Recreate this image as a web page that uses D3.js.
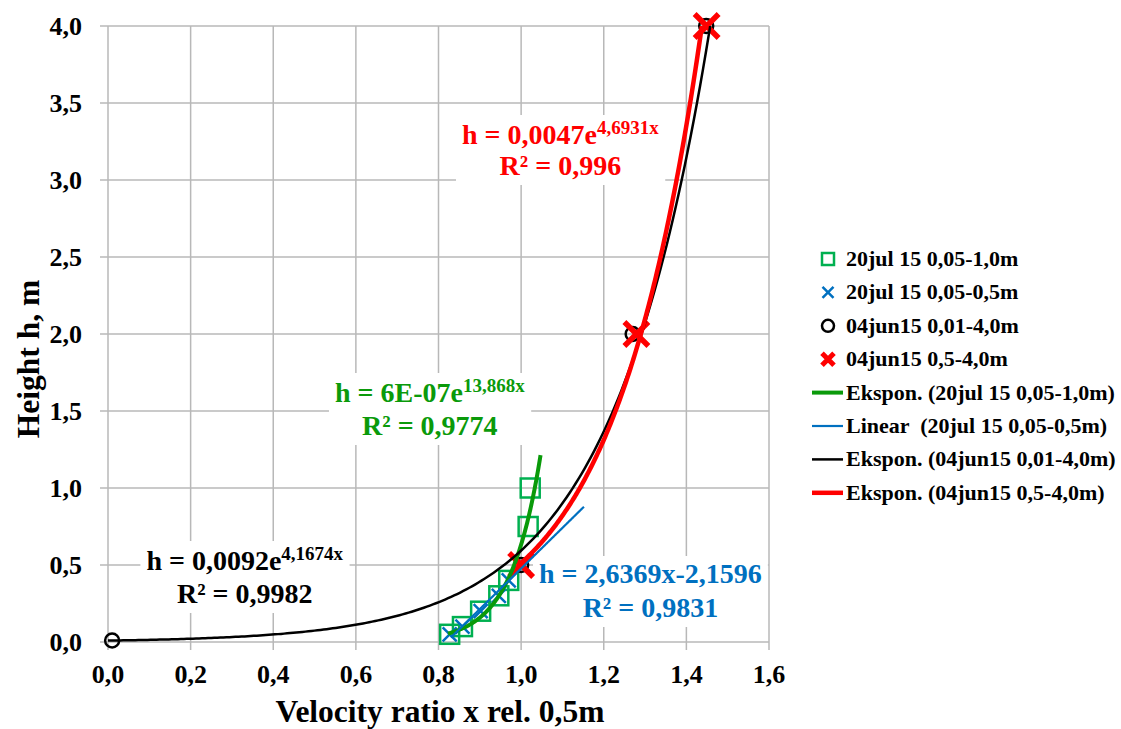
<!DOCTYPE html>
<html>
<head>
<meta charset="utf-8">
<script src="https://cdn.jsdelivr.net/npm/d3@7"></script>
<style>
  body { margin: 0; background: #fff; }
  text { font-family: "Liberation Serif", "Times New Roman", serif; font-weight: bold; }
</style>
</head>
<body>
<div id="chart"></div>
<script>
// Measured series (velocity ratio x, height h)
const squareX = [0.827, 0.858, 0.902, 0.946, 0.970, 1.017, 1.022];
const squareY = [0.05, 0.1, 0.2, 0.3, 0.4, 0.75, 1.0];
const crossX = [0.827, 0.858, 0.902, 0.946, 0.970, 1.005];
const crossY = [0.05, 0.1, 0.2, 0.3, 0.4, 0.5];
const circleX = [0.01, 1.0, 1.27, 1.448];
const circleY = [0.01, 0.5, 2.0, 4.0];
const redX = [1.0, 1.279, 1.449];
const redY = [0.5, 2.0, 4.0];

// Trendlines: [a, b] and x ranges
const expGreen = [6e-7, 13.868], greenRange = [0.823, 1.047];
const linBlue = [2.6369, -2.1596], blueRange = [0.83, 1.152];
const expBlack = [0.0092, 4.1674], blackRange = [0.0, 1.47];
const expRed = [0.0047, 4.6931], redRange = [0.99, 1.46];

const xTicks = [0, 0.2, 0.4, 0.6, 0.8, 1.0, 1.2, 1.4, 1.6];
const yTicks = [0, 0.5, 1.0, 1.5, 2.0, 2.5, 3.0, 3.5, 4.0];

const legendLabels = [
  "20jul 15 0,05-1,0m",
  "20jul 15 0,05-0,5m",
  "04jun15 0,01-4,0m",
  "04jun15 0,5-4,0m",
  "Ekspon. (20jul 15 0,05-1,0m)",
  "Linear  (20jul 15 0,05-0,5m)",
  "Ekspon. (04jun15 0,01-4,0m)",
  "Ekspon. (04jun15 0,5-4,0m)"
];

const W = 1121, H = 729;
const plot = { left: 108, right: 769, top: 26, bottom: 642 };
const GREEN = "#0a9a0a", SQ = "#00b050", BLUE = "#0070c0", RED = "#ff0000";

const x = d3.scaleLinear().domain([0, 1.6]).range([plot.left, plot.right]);
const y = d3.scaleLinear().domain([0, 4]).range([plot.bottom, plot.top]);
const fmt = d => d3.format(".1f")(d).replace(".", ",");

const svg = d3.select("#chart").append("svg")
  .attr("width", W).attr("height", H);

svg.append("defs").append("clipPath").attr("id", "clip")
  .append("rect")
  .attr("x", plot.left).attr("y", plot.top)
  .attr("width", plot.right - plot.left).attr("height", plot.bottom - plot.top);

// Grid
const grid = svg.append("g").attr("stroke", "#b8b8b8").attr("stroke-width", 1.5);
grid.selectAll(".vg").data(xTicks).join("line")
  .attr("x1", d => x(d)).attr("x2", d => x(d))
  .attr("y1", plot.top).attr("y2", plot.bottom + 8);
grid.selectAll(".hg").data(yTicks).join("line")
  .attr("x1", plot.left - 8).attr("x2", plot.right)
  .attr("y1", d => y(d)).attr("y2", d => y(d));

// Tick labels
svg.selectAll(".xt").data(xTicks).join("text")
  .attr("x", d => x(d)).attr("y", 683)
  .attr("text-anchor", "middle").attr("font-size", 26)
  .text(fmt);
svg.selectAll(".yt").data(yTicks).join("text")
  .attr("x", 82).attr("y", d => y(d) + 9)
  .attr("text-anchor", "end").attr("font-size", 26)
  .text(fmt);

// Axis titles
svg.append("text").attr("x", 440).attr("y", 722)
  .attr("text-anchor", "middle").attr("font-size", 31.5)
  .text("Velocity ratio x rel. 0,5m");
svg.append("text").attr("transform", "translate(39,359) rotate(-90)")
  .attr("text-anchor", "middle").attr("font-size", 31.5)
  .text("Height h, m");

// Annotation boxes (drawn before curves so lines pass over)
const labels = [
  { cx: 1.095, y1: 144, y2: 175, color: RED, main: "h = 0,0047e", sup: "4,6931x", r2: "R² = 0,996" },
  { cx: 0.779, y1: 402, y2: 435, color: GREEN, main: "h = 6E-07e", sup: "13,868x", r2: "R² = 0,9774" },
  { cx: 0.331, y1: 570, y2: 603, color: "#000", main: "h = 0,0092e", sup: "4,1674x", r2: "R² = 0,9982" },
  { cx: 1.313, y1: 583, y2: 617, color: BLUE, main: "h = 2,6369x-2,1596", sup: "", r2: "R² = 0,9831" }
];
const ann = svg.append("g");
labels.forEach(l => {
  const g = ann.append("g");
  const bg = g.append("rect").attr("fill", "#fff");
  const t1 = g.append("text").attr("x", x(l.cx)).attr("y", l.y1)
    .attr("text-anchor", "middle").attr("font-size", 28).attr("fill", l.color);
  t1.append("tspan").text(l.main);
  if (l.sup) t1.append("tspan").attr("font-size", 19).attr("dy", -10).text(l.sup);
  g.append("text").attr("x", x(l.cx)).attr("y", l.y2)
    .attr("text-anchor", "middle").attr("font-size", 28).attr("fill", l.color)
    .text(l.r2);
  const b = g.node().getBBox();
  bg.attr("x", b.x - 6).attr("y", b.y - 2).attr("width", b.width + 12).attr("height", b.height + 6);
});

// Markers (under the trendlines)
const marks = svg.append("g");
const xPath = s => `M${-s},${-s}L${s},${s}M${-s},${s}L${s},${-s}`;
marks.selectAll(".sq").data(d3.zip(squareX, squareY)).join("rect")
  .attr("x", d => x(d[0]) - 9.5).attr("y", d => y(d[1]) - 9.5)
  .attr("width", 19).attr("height", 19)
  .attr("fill", "none").attr("stroke", SQ).attr("stroke-width", 2.5);
marks.selectAll(".cx").data(d3.zip(crossX, crossY)).join("path")
  .attr("transform", d => `translate(${x(d[0])},${y(d[1])})`)
  .attr("d", xPath(7)).attr("stroke", BLUE).attr("stroke-width", 2.5).attr("fill", "none");
marks.selectAll(".ci").data(d3.zip(circleX, circleY)).join("circle")
  .attr("cx", d => x(d[0])).attr("cy", d => y(d[1])).attr("r", 7)
  .attr("fill", "none").attr("stroke", "#000").attr("stroke-width", 2.5);
marks.selectAll(".rx").data(d3.zip(redX, redY)).join("path")
  .attr("transform", d => `translate(${x(d[0])},${y(d[1])})`)
  .attr("d", xPath(12)).attr("stroke", RED).attr("stroke-width", 5.5).attr("fill", "none");

// Trendlines
const curves = svg.append("g").attr("clip-path", "url(#clip)").attr("fill", "none");
function curve(fn, range, color, w) {
  const xs = d3.range(0, 201).map(i => range[0] + (range[1] - range[0]) * i / 200);
  curves.append("path")
    .attr("d", d3.line().x(d => x(d)).y(d => y(fn(d)))(xs))
    .attr("stroke", color).attr("stroke-width", w);
}
curve(v => expGreen[0] * Math.exp(expGreen[1] * v), greenRange, GREEN, 4);
curve(v => linBlue[0] * v + linBlue[1], blueRange, BLUE, 2.2);
curve(v => expBlack[0] * Math.exp(expBlack[1] * v), blackRange, "#000", 2.5);
curve(v => expRed[0] * Math.exp(expRed[1] * v), redRange, RED, 4.5);

// Legend
const leg = svg.append("g");
const rowY = i => 259 + i * 33.4;
leg.selectAll("text").data(legendLabels).join("text")
  .attr("x", 846).attr("y", (d, i) => rowY(i) + 7)
  .attr("font-size", 22).style("white-space", "pre")
  .text(d => d);
leg.append("rect").attr("x", 822).attr("y", rowY(0) - 6).attr("width", 12).attr("height", 12)
  .attr("fill", "none").attr("stroke", SQ).attr("stroke-width", 2.5);
leg.append("path").attr("transform", `translate(828,${rowY(1)})`).attr("d", xPath(5.5))
  .attr("stroke", BLUE).attr("stroke-width", 2.5);
leg.append("circle").attr("cx", 828).attr("cy", rowY(2)).attr("r", 6)
  .attr("fill", "none").attr("stroke", "#000").attr("stroke-width", 2.5);
leg.append("path").attr("transform", `translate(828,${rowY(3)})`).attr("d", xPath(6))
  .attr("stroke", RED).attr("stroke-width", 5);
[[GREEN, 4], [BLUE, 2.2], ["#000", 2.5], [RED, 4.5]].forEach((s, i) => {
  leg.append("line").attr("x1", 812).attr("x2", 843)
    .attr("y1", rowY(4 + i)).attr("y2", rowY(4 + i))
    .attr("stroke", s[0]).attr("stroke-width", s[1]);
});
</script>
</body>
</html>
